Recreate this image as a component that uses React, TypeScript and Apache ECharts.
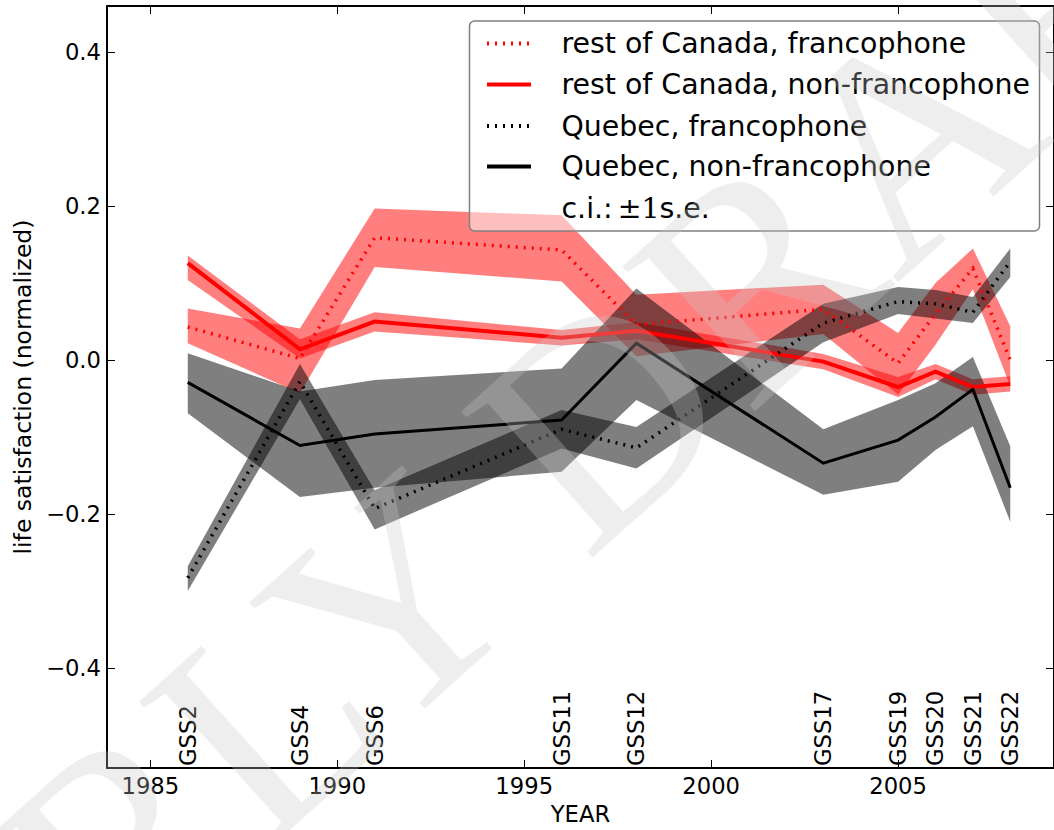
import React, { useEffect, useRef } from "react";
import * as echarts from "echarts";

// ---- data ----
const years = [1986, 1989, 1991, 1996, 1998, 2003, 2005, 2006, 2007, 2008];
const surveys = ["GSS2", "GSS4", "GSS6", "GSS11", "GSS12", "GSS17", "GSS19", "GSS20", "GSS21", "GSS22"];

const rocFranco = [0.043, 0.002, 0.159, 0.143, 0.046, 0.066, -0.004, 0.06, 0.119, 0.0];
const rocFrancoHi = [0.067, 0.041, 0.197, 0.188, 0.085, 0.098, 0.035, 0.1, 0.145, 0.044];
const rocFrancoLo = [0.022, -0.043, 0.121, 0.102, 0.005, 0.034, -0.045, 0.02, 0.092, -0.034];

const rocNon = [0.126, 0.014, 0.05, 0.029, 0.038, -0.002, -0.035, -0.015, -0.035, -0.031];
const rocNonHi = [0.136, 0.027, 0.062, 0.039, 0.049, 0.008, -0.022, -0.005, -0.025, -0.021];
const rocNonLo = [0.104, 0.002, 0.037, 0.019, 0.027, -0.012, -0.048, -0.025, -0.045, -0.041];

const qcFranco = [-0.283, -0.028, -0.193, -0.09, -0.114, 0.048, 0.076, 0.073, 0.062, 0.128];
const qcFrancoHi = [-0.268, -0.005, -0.169, -0.065, -0.087, 0.073, 0.095, 0.091, 0.082, 0.145];
const qcFrancoLo = [-0.3, -0.051, -0.22, -0.115, -0.141, 0.023, 0.06, 0.054, 0.048, 0.108];

const qcNon = [-0.029, -0.111, -0.096, -0.078, 0.022, -0.134, -0.104, -0.074, -0.038, -0.166];
const qcNonHi = [0.009, -0.041, -0.026, -0.011, 0.093, -0.09, -0.052, -0.03, 0.004, -0.112];
const qcNonLo = [-0.069, -0.178, -0.166, -0.145, -0.052, -0.175, -0.158, -0.117, -0.086, -0.21];

const xTicks = [1985, 1990, 1995, 2000, 2005];
const yTicks = [-0.4, -0.2, 0.0, 0.2, 0.4];

const legendNames = [
  "rest of Canada, francophone",
  "rest of Canada, non-francophone",
  "Quebec, francophone",
  "Quebec, non-francophone",
];

const XMIN = 1983.84;
const XMAX = 2009.17;
const YMIN = -0.53;
const YMAX = 0.46;

const FONT = "DejaVu Sans";
const TICK_FS = 22.7;
const LEG_FS = 28.4;

function bandSeries(hi: number[], lo: number[], fill: string) {
  return {
    type: "custom",
    xAxisIndex: 0,
    yAxisIndex: 0,
    clip: true,
    silent: true,
    data: years.map((y, i) => [y, hi[i], lo[i]]),
    encode: { x: 0, y: 1 },
    renderItem: (params: any, api: any) => {
      if (params.dataIndex !== 0) return null;
      const pts: number[][] = [];
      for (let i = 0; i < years.length; i++) pts.push(api.coord([years[i], hi[i]]));
      for (let i = years.length - 1; i >= 0; i--) pts.push(api.coord([years[i], lo[i]]));
      return { type: "polygon", shape: { points: pts }, style: { fill, stroke: "none" } };
    },
  };
}

function lineSeries(name: string, vals: number[], color: string, dotted: boolean, width: number) {
  return {
    type: "line",
    name,
    xAxisIndex: 0,
    yAxisIndex: 0,
    data: years.map((y, i) => [y, vals[i]]),
    showSymbol: false,
    symbol: "none",
    silent: true,
    lineStyle: { color, width, type: dotted ? [2, 6] : "solid", cap: "butt", join: "miter" },
    z: 5,
  };
}

export default function App() {
  const ref = useRef<HTMLDivElement>(null);
  useEffect(() => {
    const chart = echarts.init(ref.current!, null, { renderer: "svg" });
    const redBand = "rgba(255,0,0,0.5)";
    const greyBand = "rgba(0,0,0,0.5)";

    const legX = 469.5;
    const legY = 21;
    const rowsY = [43.5, 84.5, 126, 166.5, 208];
    const handles = [
      { color: "#ff0000", dash: [2, 6] },
      { color: "#ff0000", dash: null },
      { color: "#000000", dash: [2, 6] },
      { color: "#000000", dash: null },
    ];

    const graphic: any[] = [
      {
        type: "rect",
        z: 50,
        shape: { x: legX, y: legY, width: 570, height: 210, r: 5 },
        style: { fill: "rgba(255,255,255,0.5)", stroke: "#808080", lineWidth: 1.5 },
      },
    ];
    handles.forEach((h, i) => {
      graphic.push({
        type: "line",
        z: 51,
        shape: { x1: 487, y1: rowsY[i], x2: 531, y2: rowsY[i] },
        style: { stroke: h.color, lineWidth: 4, lineDash: h.dash || undefined },
      });
      graphic.push({
        type: "text",
        z: 51,
        x: 561.5,
        y: rowsY[i],
        style: {
          text: legendNames[i],
          font: `${LEG_FS}px "${FONT}"`,
          fill: "#000",
          verticalAlign: "middle",
          align: "left",
        },
      });
    });
    graphic.push({
      type: "text",
      z: 51,
      x: 561.5,
      y: rowsY[4],
      style: {
        text: "{a|c.i.:}{s| }{b|±1}{a|s.e.}",
        verticalAlign: "middle",
        align: "left",
        rich: {
          a: { fontFamily: FONT, fontSize: LEG_FS, fill: "#000" },
          s: { fontFamily: FONT, fontSize: 16, fill: "#000" },
          b: { fontFamily: "DejaVu Serif", fontSize: LEG_FS, fill: "#000" },
        },
      },
    });
    // watermark (figure-level, partly outside the page like the original)
    graphic.push({
      type: "text",
      z: 100,
      silent: true,
      x: 500,
      y: 505,
      rotation: (42 * Math.PI) / 180,
      style: {
        text: "EARLY DRAFT",
        font: `300px "Liberation Serif"`,
        fill: "rgba(200,200,200,0.3)",
        align: "center",
        verticalAlign: "middle",
      },
    });

    const baseAxisLine = { show: true, onZero: false, lineStyle: { color: "#000", width: 2 } };
    const tickStyle = { color: "#000", width: 1 };

    const option: any = {
      animation: false,
      backgroundColor: "#ffffff",
      grid: { left: 107, top: 6, width: 949, height: 762, containLabel: false },
      xAxis: [
        {
          type: "value",
          min: XMIN,
          max: XMAX,
          position: "bottom",
          axisLine: baseAxisLine,
          axisTick: { show: true, inside: true, length: 8, customValues: xTicks, lineStyle: tickStyle },
          axisLabel: {
            customValues: xTicks,
            fontSize: TICK_FS,
            fontFamily: FONT,
            color: "#000",
            margin: 6,
            formatter: (v: number) => String(v),
          },
          splitLine: { show: false },
          name: "YEAR",
          nameLocation: "middle",
          nameGap: 34,
          nameTextStyle: { fontSize: TICK_FS, fontFamily: FONT, color: "#000" },
        },
        {
          type: "value",
          min: XMIN,
          max: XMAX,
          position: "top",
          axisLine: baseAxisLine,
          axisTick: { show: true, inside: true, length: 8, customValues: xTicks, lineStyle: tickStyle },
          axisLabel: { show: false },
          splitLine: { show: false },
        },
        {
          type: "value",
          min: XMIN,
          max: XMAX,
          position: "bottom",
          axisLine: { show: false },
          axisTick: { show: false },
          axisLabel: {
            customValues: years,
            inside: true,
            rotate: 90,
            margin: 2,
            fontSize: TICK_FS,
            fontFamily: FONT,
            color: "#000",
            formatter: (v: number) => {
              const i = years.indexOf(Math.round(v));
              return i >= 0 ? surveys[i] : "";
            },
          },
          splitLine: { show: false },
        },
      ],
      yAxis: [
        {
          type: "value",
          min: YMIN,
          max: YMAX,
          position: "left",
          axisLine: baseAxisLine,
          axisTick: { show: true, inside: true, length: 8, customValues: yTicks, lineStyle: tickStyle },
          axisLabel: {
            customValues: yTicks,
            fontSize: TICK_FS,
            fontFamily: FONT,
            color: "#000",
            margin: 6,
            formatter: (v: number) => (v < -1e-9 ? "\u2212" + Math.abs(v).toFixed(1) : Math.abs(v).toFixed(1)),
          },
          splitLine: { show: false },
          name: "life satisfaction (normalized)",
          nameLocation: "middle",
          nameRotate: 90,
          nameGap: 72,
          nameTextStyle: { fontSize: 23.5, fontFamily: FONT, color: "#000" },
        },
        {
          type: "value",
          min: YMIN,
          max: YMAX,
          position: "right",
          axisLine: baseAxisLine,
          axisTick: { show: true, inside: true, length: 8, customValues: yTicks, lineStyle: tickStyle },
          axisLabel: { show: false },
          splitLine: { show: false },
        },
      ],
      series: [
        bandSeries(rocFrancoHi, rocFrancoLo, redBand),
        bandSeries(rocNonHi, rocNonLo, redBand),
        bandSeries(qcFrancoHi, qcFrancoLo, greyBand),
        bandSeries(qcNonHi, qcNonLo, greyBand),
        lineSeries(legendNames[0], rocFranco, "#ff0000", true, 3.5),
        lineSeries(legendNames[1], rocNon, "#ff0000", false, 4),
        lineSeries(legendNames[2], qcFranco, "#000000", true, 3.5),
        lineSeries(legendNames[3], qcNon, "#000000", false, 3),
      ],
      graphic,
    };
    chart.setOption(option);
    return () => chart.dispose();
  }, []);
  return (
    <div
      ref={ref}
      style={{ position: "absolute", left: 0, top: 0, width: 1054, height: 830, background: "#fff" }}
    />
  );
}
